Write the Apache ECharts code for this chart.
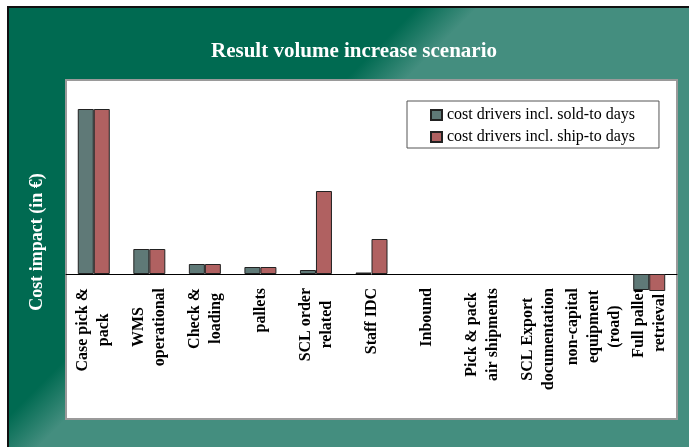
<!DOCTYPE html>
<html>
<head>
<meta charset="utf-8">
<script src="https://cdn.jsdelivr.net/npm/echarts@6/dist/echarts.min.js"></script>
<style>
  body { margin: 0; background: #fff; }
  #chart { width: 689px; height: 447px; }
</style>
</head>
<body>
<div id="chart"></div>
<script>
  const categories = [
    'Case pick &\npack', 'WMS\noperational', 'Check &\nloading', 'pallets',
    'SCL order\nrelated', 'Staff IDC', 'Inbound', 'Pick & pack\nair shipments',
    'SCL Export\ndocumentation', 'non-capital\nequipment\n(road)', 'Full pallet\nretrieval'
  ];
  const soldToDays = [165, 25, 10, 7, 4, 1.5, 0, 0, 0, 0, -16];
  const shipToDays = [165, 25, 10, 7, 83, 35, 0, 0, 0, 0, -17];
  const seriesNames = ['cost drivers incl. sold-to days', 'cost drivers incl. ship-to days'];

  const serif = '"Liberation Serif", "DejaVu Serif", serif';
  const dark = '#006a51';
  const light = '#448e7f';

  // zero bars are not outlined in the original
  const toItems = (arr) => arr.map((v) => (v === 0 ? { value: v, itemStyle: { borderWidth: 0 } } : v));

  // labels are right aligned (top end at the axis); pad short lines so they sit centred
  const ctx = document.createElement('canvas').getContext('2d');
  ctx.font = 'bold 16px ' + serif;
  const rich = {
    t: { lineHeight: 21, fontFamily: serif, fontWeight: 'bold', fontSize: 16, color: '#000' }
  };
  const labelText = categories.map((c, i) => {
    const lines = c.split('\n');
    const widths = lines.map((s) => ctx.measureText(s).width);
    const maxW = Math.max(...widths);
    return lines.map((s, j) => {
      const pad = (maxW - widths[j]) / 2;
      if (pad < 0.5) return '{t|' + s + '}';
      const key = 'p' + i + '_' + j;
      rich[key] = { width: pad, lineHeight: 21, fontSize: 16 };
      return '{t|' + s + '}{' + key + '| }';
    }).join('\n');
  });

  const myChart = echarts.init(document.getElementById('chart'));

  const option = {
    backgroundColor: '#fff',
    animation: false,
    graphic: [
      // slide background
      {
        type: 'rect',
        z: -10,
        shape: { x: 8, y: 7, width: 700, height: 460 },
        style: {
          fill: new echarts.graphic.LinearGradient(0, 0, 500, 500, [
            { offset: 0, color: dark },
            { offset: 0.425, color: dark },
            { offset: 0.485, color: light },
            { offset: 1, color: light }
          ], true),
          stroke: '#111',
          lineWidth: 2
        }
      },
      // white plot box
      {
        type: 'rect',
        z: -9,
        shape: { x: 66, y: 80, width: 611, height: 339 },
        style: { fill: '#fff', stroke: '#9a9a9a', lineWidth: 2 }
      },
      // y axis title
      {
        type: 'text',
        z: -8,
        x: 37,
        y: 242,
        rotation: Math.PI / 2,
        style: {
          text: 'Cost impact (in €)',
          fill: '#fff',
          font: 'bold 18px ' + serif,
          align: 'center',
          verticalAlign: 'middle'
        }
      }
    ],
    title: {
      text: 'Result volume increase scenario',
      left: 211,
      top: 41,
      padding: 0,
      textStyle: { color: '#fff', fontFamily: serif, fontWeight: 'bold', fontSize: 21 }
    },
    legend: {
      orient: 'vertical',
      left: 407,
      top: 101,
      padding: [6, 24, 3, 23],
      itemWidth: 11,
      itemHeight: 10,
      itemGap: 6,
      icon: 'rect',
      backgroundColor: '#fff',
      borderColor: '#555',
      borderWidth: 1,
      textStyle: { fontFamily: serif, fontSize: 16, color: '#000' }
    },
    grid: { left: 66, right: 12, top: 94, bottom: 153 },
    xAxis: {
      type: 'category',
      data: categories,
      axisLine: { lineStyle: { color: '#000', width: 1 } },
      axisTick: { length: 5, lineStyle: { color: '#000' } },
      axisLabel: {
        interval: 0,
        rotate: 90,
        margin: -6,
        formatter: (v, i) => labelText[i],
        rich: rich
      }
    },
    yAxis: {
      type: 'value',
      min: -20,
      max: 180,
      interval: 20,
      axisLine: { show: false },
      axisTick: { show: false },
      axisLabel: { show: false },
      splitLine: { show: false }
    },
    series: [
      {
        name: seriesNames[0],
        type: 'bar',
        barWidth: 16,
        barGap: '0%',
        itemStyle: { color: '#5f7977', borderColor: '#222', borderWidth: 1 },
        data: toItems(soldToDays)
      },
      {
        name: seriesNames[1],
        type: 'bar',
        barWidth: 16,
        barGap: '0%',
        itemStyle: { color: '#b06161', borderColor: '#222', borderWidth: 1 },
        data: toItems(shipToDays)
      }
    ]
  };
  myChart.setOption(option);
</script>
</body>
</html>
